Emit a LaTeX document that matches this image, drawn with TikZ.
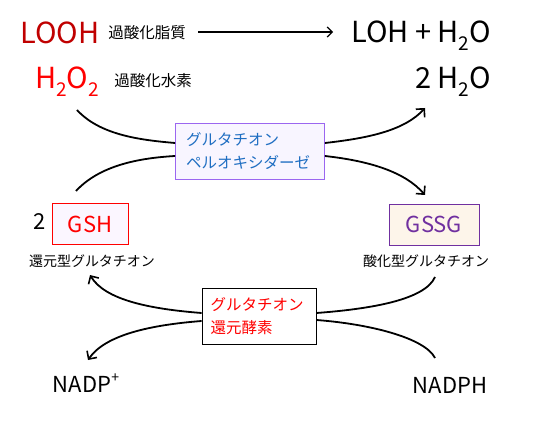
\documentclass[tikz,border=0pt]{standalone}
\usepackage{fontspec}
\setmainfont{Noto Sans CJK JP}
\usetikzlibrary{arrows.meta}
\definecolor{darkred}{HTML}{C00000}
\definecolor{brightred}{HTML}{FF0000}
\definecolor{enzblue}{HTML}{1F6EC2}
\definecolor{boxpurple}{HTML}{9B66F0}
\definecolor{lav}{HTML}{F8F5FF}
\definecolor{gshfill}{HTML}{FBF6FF}
\definecolor{gssgfill}{HTML}{FDF5EA}
\definecolor{gssgpurple}{HTML}{7030A0}
\newcommand{\subsc}[1]{\raisebox{-0.28em}{\fontsize{19}{19}\selectfont #1}}
\tikzset{
  big/.style={inner sep=0pt, font=\fontsize{29}{32}\selectfont},
  jp/.style={inner sep=0pt, font=\fontsize{15.5}{18}\selectfont},
  jps/.style={inner sep=0pt, font=\fontsize{14}{16}\selectfont},
  mid/.style={inner sep=0pt, font=\fontsize{22}{24}\selectfont},
  curve/.style={line width=1.8pt, black},
  tipcurve/.style={curve, -{Straight Barb[length=6pt,width=12pt,line width=1.6pt]}},
  enzbox/.style={draw, line width=0.8pt, inner sep=0pt, font=\fontsize{15.5}{23}\selectfont, align=left, text width=136pt, minimum height=56pt}
}
\begin{document}
\begin{tikzpicture}[x=1pt,y=-1pt]
\useasboundingbox (0,0) rectangle (552,425);
% top row
\node[big, text=darkred] (looh) at (60,33) {LOOH};
\node[jp] (loohlab) at (147,33) {過酸化脂質};
\node[big] (loh) at (421,36) {LOH + H\subsc{2}O};
\coordinate (arrs) at (198,32);
\coordinate (arre) at (333,32);
\draw[line width=1.3pt, -{Straight Barb[length=5pt,width=10pt,line width=1.2pt]}] (arrs) -- (arre);
% second row
\node[big, text=brightred] (h2o2) at (67,82) {H\subsc{2}O\subsc{2}};
\node[jp] (h2o2lab) at (153,81) {過酸化水素};
\node[big] (h2o) at (453,82) {2 H\subsc{2}O};
% peroxidase box
\node[enzbox, draw=boxpurple, fill=lav, text=enzblue, minimum width=149pt] (gpx) at (250,151) {\hspace*{4pt}グルタチオン\\\hspace*{4pt}ペルオキシダーゼ};
\coordinate (ul) at (77,110);
\coordinate (ll) at (76,191);
\coordinate (urt) at (425,108);
\coordinate (lrt) at (425,195);
\draw[curve] (ul) .. controls (100,135) and (140,140) .. (gpx.west |- 0,143);
\draw[curve] (ll) .. controls (100,165) and (140,158) .. (gpx.west |- 0,156);
\draw[tipcurve] (gpx.east |- 0,143) .. controls (370,138) and (405,130) .. (urt);
\draw[tipcurve] (gpx.east |- 0,156) .. controls (370,161) and (405,172) .. (lrt);
% GSH
\node[mid] (two) at (40,222) {2};
\node[draw=brightred, line width=0.8pt, fill=gshfill, text=brightred, minimum width=76pt, minimum height=41pt, inner sep=0pt, font=\fontsize{22}{24}\selectfont] (gsh) at (90,224) {GSH};
\node[jps] (gshlab) at (92,261) {還元型グルタチオン};
% GSSG
\node[draw=gssgpurple, line width=0.8pt, fill=gssgfill, text=gssgpurple, minimum width=90pt, minimum height=41pt, inner sep=0pt, font=\fontsize{22}{24}\selectfont] (gssg) at (434,224.5) {GSSG};
\node[jps] (gssglab) at (426,261) {酸化型グルタチオン};
% reductase box
\node[enzbox, draw=black, fill=white, text=brightred, minimum width=114pt, text width=101pt] (gr) at (259,316) {\hspace*{2pt}グルタチオン\\\hspace*{2pt}還元酵素};
\coordinate (nt) at (90,275);
\coordinate (nb) at (88,360);
\coordinate (rt) at (435,277);
\coordinate (rb) at (435,358);
\draw[tipcurve] (gr.west |- 0,313) .. controls (150,309) and (105,300) .. (nt);
\draw[tipcurve] (gr.west |- 0,321) .. controls (150,325) and (105,335) .. (nb);
\draw[curve] (gr.east |- 0,313) .. controls (370,309) and (425,300) .. (rt);
\draw[curve] (gr.east |- 0,320) .. controls (370,324) and (425,338) .. (rb);
% NADP
\node[mid] (nadp) at (86,383) {NADP\raisebox{0.45em}{\fontsize{14}{14}\selectfont +}};
\node[mid] (nadph) at (450,385) {NADPH};
\end{tikzpicture}
\end{document}
